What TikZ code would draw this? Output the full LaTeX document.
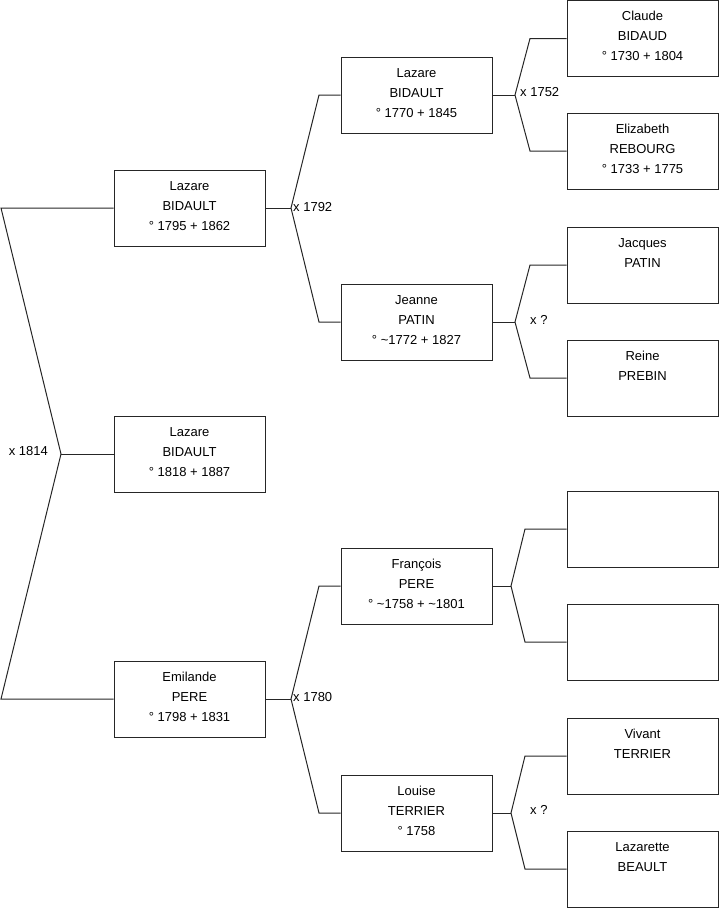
\documentclass[tikz,border=0pt]{standalone}
\usepackage{fontspec}
\setmainfont{Liberation Sans}
\newcommand\ls{\rule[-8pt]{0pt}{20pt}}
\begin{document}
\begin{tikzpicture}[x=1pt,y=-1pt,
  every node/.style={font=\fontsize{13}{20}\selectfont},
  person/.style={draw=black!85, line width=1pt, minimum width=151pt, minimum height=76pt, inner sep=0pt, align=center},
  link/.style={draw=black!85, line width=1pt},
  marr/.style={inner sep=0pt}
]
\useasboundingbox (0,0) rectangle (719,908);
% generation 1
\node[person] (p1) at (189.5,208) {\ls Lazare\\\ls BIDAULT\\\ls ° 1795 + 1862};
\node[person] (p0) at (189.5,454) {\ls Lazare\\\ls BIDAULT\\\ls ° 1818 + 1887};
\node[person] (p2) at (189.5,699) {\ls Emilande\\\ls PERE\\\ls ° 1798 + 1831};
% generation 2
\node[person] (p11) at (416.5,95) {\ls Lazare\\\ls BIDAULT\\\ls ° 1770 + 1845};
\node[person] (p12) at (416.5,322) {\ls Jeanne\\\ls PATIN\\\ls ° \textasciitilde1772 + 1827};
\node[person] (p21) at (416.5,586) {\ls François\\\ls PERE\\\ls ° \textasciitilde1758 + \textasciitilde1801};
\node[person] (p22) at (416.5,813) {\ls Louise\\\ls TERRIER\\\ls ° 1758};
% generation 3
\node[person] (p111) at (642.5,38.5) {\ls Claude\\\ls BIDAUD\\\ls ° 1730 + 1804};
\node[person] (p112) at (642.5,151) {\ls Elizabeth\\\ls REBOURG\\\ls ° 1733 + 1775};
\node[person] (p121) at (642.5,265) {\ls Jacques\\\ls PATIN\\\ls};
\node[person] (p122) at (642.5,378) {\ls Reine\\\ls PREBIN\\\ls};
\node[person] (p211) at (642.5,529) {};
\node[person] (p212) at (642.5,642) {};
\node[person] (p221) at (642.5,756) {\ls Vivant\\\ls TERRIER\\\ls};
\node[person] (p222) at (642.5,869) {\ls Lazarette\\\ls BEAULT\\\ls};
% coordinates
\coordinate (r0a) at (1,208);
\coordinate (r0) at (61,454);
\coordinate (r0b) at (1,699);
\coordinate (v1) at (291,208);
\coordinate (v1a) at (319,95);
\coordinate (v1b) at (319,322);
\coordinate (v2) at (291,699);
\coordinate (v2a) at (319,586);
\coordinate (v2b) at (319,813);
\coordinate (v11) at (515,95);
\coordinate (v11a) at (530,38.5);
\coordinate (v11b) at (530,151);
\coordinate (v12) at (515,322);
\coordinate (v12a) at (530,265);
\coordinate (v12b) at (530,378);
\coordinate (v21) at (511,586);
\coordinate (v21a) at (525,529);
\coordinate (v21b) at (525,642);
\coordinate (v22) at (511,813);
\coordinate (v22a) at (525,756);
\coordinate (v22b) at (525,869);
% connectors
\draw[link] (p1.west) -- (r0a) -- (r0) -- (r0b) -- (p2.west);
\draw[link] (r0) -- (p0.west);
\draw[link] (p1.east) -- (v1);
\draw[link] (p11.west) -- (v1a) -- (v1) -- (v1b) -- (p12.west);
\draw[link] (p2.east) -- (v2);
\draw[link] (p21.west) -- (v2a) -- (v2) -- (v2b) -- (p22.west);
\draw[link] (p11.east) -- (v11);
\draw[link] (p111.west) -- (v11a) -- (v11) -- (v11b) -- (p112.west);
\draw[link] (p12.east) -- (v12);
\draw[link] (p121.west) -- (v12a) -- (v12) -- (v12b) -- (p122.west);
\draw[link] (p21.east) -- (v21);
\draw[link] (p211.west) -- (v21a) -- (v21) -- (v21b) -- (p212.west);
\draw[link] (p22.east) -- (v22);
\draw[link] (p221.west) -- (v22a) -- (v22) -- (v22b) -- (p222.west);
% marriage labels
\node[marr, anchor=east] (m0) at ([xshift=-13pt,yshift=3pt]r0) {x 1814};
\node[marr, anchor=west] (m1) at ([xshift=2pt,yshift=1pt]v1) {x 1792};
\node[marr, anchor=west] (m2) at ([xshift=2pt,yshift=1.5pt]v2) {x 1780};
\node[marr, anchor=west] (m11) at ([xshift=5pt,yshift=3pt]v11) {x 1752};
\node[marr, anchor=west] (m12) at ([xshift=15pt,yshift=2pt]v12) {x ?};
\node[marr, anchor=west] (m22) at ([xshift=19pt,yshift=3pt]v22) {x ?};
\end{tikzpicture}
\end{document}
